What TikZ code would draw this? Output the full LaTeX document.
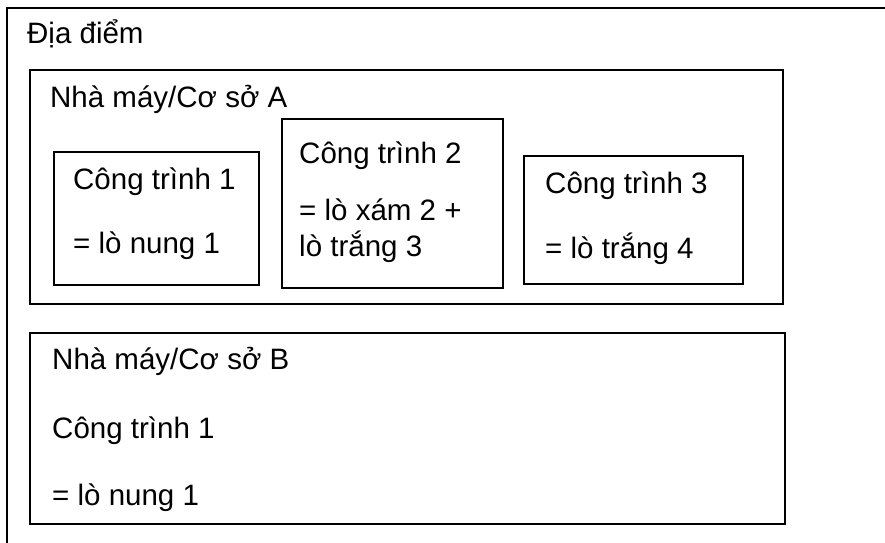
\documentclass[tikz,border=0pt]{standalone}
\usepackage{fontspec}
\setmainfont{Liberation Sans}
\usetikzlibrary{positioning,calc}

\begin{document}
\begin{tikzpicture}[
    x=1pt, y=-1pt,
    frame/.style={rectangle, draw, line width=1.5pt, inner sep=0pt, anchor=north west},
    txt/.style={anchor=base west, inner sep=0pt, font=\fontsize{29.5}{34}\selectfont}
]
\useasboundingbox (0,0) rectangle (885,542);

% Dia diem (only the left and top sides show on the page)
\coordinate (site) at (7,8);
\draw[line width=1.5pt] ($(site)+(0,540)$) |- ($(site)+(880,0)$);
\node (sitelbl) [txt] at ($(site)+(20,35)$) {Địa điểm};

% Co so A
\node (plantA) [frame, minimum width=753pt, minimum height=234pt] at (29,69) {};
\node (plantAlbl) [txt] at ($(plantA.north west)+(21,38)$) {Nhà máy/Cơ sở A};

% Cong trinh 1
\node (wA1) [frame, minimum width=205pt, minimum height=133pt] at (53,151) {};
\node (wA1a) [txt] at ($(wA1.north west)+(20,38)$) {Công trình 1};
\node (wA1b) [txt] at ($(wA1.north west)+(20,102)$) {= lò nung 1};

% Cong trinh 2
\node (wA2) [frame, minimum width=221pt, minimum height=169pt] at (281,118) {};
\node (wA2a) [txt] at ($(wA2.north west)+(18,45)$) {Công trình 2};
\node (wA2b) [txt] at ($(wA2.north west)+(18,102)$) {= lò xám 2 +};
\node (wA2c) [txt] at ($(wA2.north west)+(18,138)$) {lò trắng 3};

% Cong trinh 3
\node (wA3) [frame, minimum width=219pt, minimum height=128pt] at (523,155) {};
\node (wA3a) [txt] at ($(wA3.north west)+(22,38)$) {Công trình 3};
\node (wA3b) [txt] at ($(wA3.north west)+(22,103)$) {= lò trắng 4};

% Co so B
\node (plantB) [frame, minimum width=755pt, minimum height=191pt] at (29,332) {};
\node (plantBlbl) [txt] at ($(plantB.north west)+(23,37)$) {Nhà máy/Cơ sở B};
\node (wB1a) [txt] at ($(plantB.north west)+(23,106)$) {Công trình 1};
\node (wB1b) [txt] at ($(plantB.north west)+(23,173)$) {= lò nung 1};

\end{tikzpicture}
\end{document}
